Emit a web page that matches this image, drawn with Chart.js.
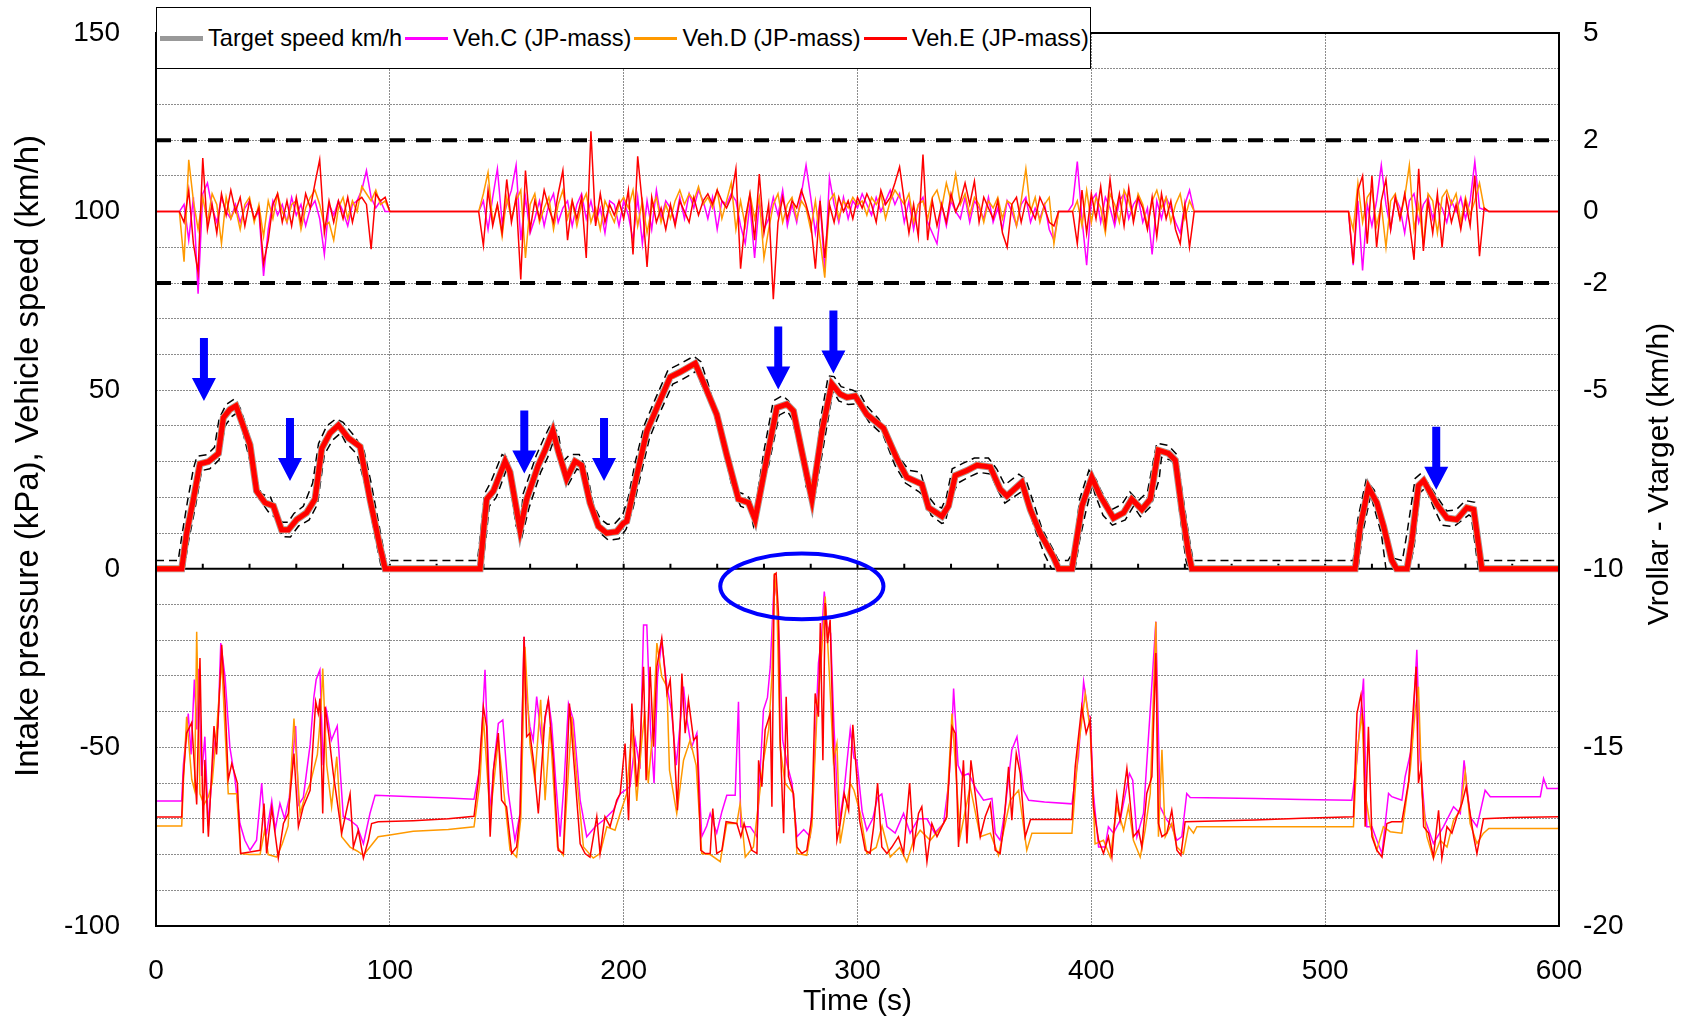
<!DOCTYPE html>
<html lang="en">
<head>
<meta charset="UTF-8">
<title>Speed, deviation and intake pressure</title>
<script src="https://cdn.jsdelivr.net/npm/chart.js"></script>
<style>
  body { margin: 0; background: #fff; }
  #wrap { position: relative; width: 1685px; height: 1020px; }
  #legend {
    position: absolute; left: 156px; top: 7px; width: 933px; height: 60px;
    border: 1.5px solid #000; background: #fff; display: flex; align-items: center;
    font: 23.6px 'Liberation Sans', Arial, sans-serif; color: #000; white-space: nowrap;
  }
  #legend .sw { display: inline-block; width: 43px; height: 3px; margin: 0 5px 0 3px; }
</style>
</head>
<body>
<div id="wrap">
  <canvas id="myChart" width="1685" height="1020"></canvas>
  <div id="legend">
    <span class="sw" style="background:#999;height:5px"></span><span>Target speed km/h</span>
    <span class="sw" style="background:#ff00ff"></span><span>Veh.C (JP-mass)</span>
    <span class="sw" style="background:#ff9900"></span><span>Veh.D (JP-mass)</span>
    <span class="sw" style="background:#ff0000"></span><span>Veh.E (JP-mass)</span>
  </div>
</div>

<script>
// ---- speed profile [time s, km/h] (vehicles follow the target within the line width)
const speedTrace = [[0,0],[11,0],[13.1,10],[16,19.5],[18.8,29.4],[22.4,30],[26.7,32.3],[28.8,42.3],[31.6,44.6],[34.2,45.6],[36.6,41.3],[40.2,34.7],[43,21.8],[46.6,18.5],[50.2,17.6],[53.7,10.9],[56.6,10.9],[60.2,13.8],[64.4,15.7],[68,19.5],[70.9,33.7],[74.4,38],[78,40.2],[82.3,36.6],[87.3,34.2],[91.5,19.5],[95.8,6.2],[98,0],[138.6,0],[140,10],[141.4,19.5],[144.3,21.8],[149.3,30.1],[151.4,27],[155.7,10.9],[158.5,19.5],[163.5,29],[166.4,33.2],[169.7,38.7],[172.1,32.8],[175.6,25.2],[179.2,30.1],[182,29],[185.6,18.5],[189.2,11.9],[192.7,10],[197,10.4],[199.9,12.8],[201.3,13.3],[205.6,26.1],[209.9,38.5],[214.2,45.1],[219.9,53.7],[224.2,55.1],[230.6,57.5],[234.1,52.2],[239.8,43.2],[244.1,31.8],[249.1,19.5],[253.4,18.5],[256.2,13.8],[261.2,30.9],[265.5,45.1],[269.8,46.1],[272.6,44.2],[276.2,32.8],[280.5,19.5],[284.8,38.5],[289,51.8],[292.6,48.9],[295.5,48],[299,48.4],[304,43.2],[311.1,39.4],[316.8,30.9],[321.1,25.6],[327.5,23.7],[330.4,17.1],[336.1,14.7],[338.9,17.6],[341.8,26.1],[346.8,27.5],[351.1,29],[356.8,28.5],[361,22.3],[363.9,20.4],[370.3,24.2],[373.9,16.6],[378.1,10],[383.8,3.3],[386,0],[391.7,0],[396,17.6],[400.2,25.6],[403.8,20.4],[409.5,14.2],[413.8,15.7],[417.3,19.5],[421.6,16.6],[425.2,19.5],[428.7,33.2],[433,32.3],[435.9,30.4],[438.7,16.6],[441.6,4.3],[443,0],[512.8,0],[515,11.9],[518.5,22.8],[522.1,18.5],[525,11.9],[528.5,2.4],[530.5,0],[535,0],[537.1,8.1],[539.9,23.3],[542.1,24.7],[547.8,18],[552.1,14.2],[556.3,13.8],[560.6,17.1],[563.5,16.6],[567,0],[600,0]];

// tolerance band around the target
const bandUpper = [[0,2.3],[9.5,2.3],[11,9],[13.5,19],[16,28],[17.5,31.5],[22,32],[25,34],[27,42],[30,46],[33.5,47.5],[36,45],[39.5,38],[42.5,26],[45,21],[49,20],[52,15],[54,13],[56.5,13],[59,15.5],[63,17.5],[67,24],[69.5,35],[73,40],[77,42],[80,41],[85,37],[89,33],[92,24],[96,10],[98,3],[99,2.3],[137.5,2.3],[139,11],[140.5,21],[143,24],[148,32],[150.5,31],[152,25],[154.5,14],[156,13],[157,21],[162.5,31.5],[165.5,36],[169,40.7],[172,38],[174,30],[177,32],[181,32],[184,28],[187,18],[190,14],[193,12.5],[196,12.5],[199.5,15],[202,20],[205,30],[209,40.5],[213.5,47.5],[219,55.7],[223,57],[230,59.5],[233,58],[236,52],[239,45],[243,36],[247,22],[251,21],[253.5,20],[256,16],[257,20],[260,33],[264,47],[268,48.5],[270.5,47],[273,43],[275.5,35],[278,23],[280,21],[282,27],[284,41],[287.5,54],[290,53.8],[293,51],[298,50],[301,49],[304,45.5],[309,42],[314,36],[318,31],[322,27.6],[327,27],[329.5,21],[333,18],[336,17],[338,20],[340.5,28],[345,29.5],[350,31],[356,31],[359.5,28],[363,23.5],[369,26.5],[372,25],[375,19],[379,11],[384,5],[386,2.3],[390,2.3],[392.5,5],[395,19.5],[399,27.6],[402,25],[404,22],[408.5,16.5],[413,18],[416.5,21.5],[420,19],[424,21.5],[428,35.2],[433,34.5],[436.5,32],[439,21],[441.5,10],[443.5,2.3],[512,2.3],[514,14],[517.5,24.8],[521,22],[524.5,15],[527,6],[529,3],[533,2.3],[535,10],[538.5,25.3],[541,26.7],[545,23],[548,20],[552,16.2],[556,16.5],[560,19.1],[564,18.6],[566,8],[567.5,2.3],[600,2.3]];
const bandLower = [[0,0],[12,0],[14,8],[17,18],[19.5,27.5],[23,28],[27,30.5],[29.5,40],[32.5,42.7],[34.5,43.6],[35.5,43],[38,36],[41,28],[44,19.8],[48,16],[51.5,14],[54,9],[57.5,8.9],[61,12],[65.5,13.7],[69,18],[72,32],[75.5,36],[79,38],[81,35.5],[86,32],[90,22],[94,8],[96.5,0],[139.5,0],[141,8],[142.5,17.5],[145.5,20],[150,28],[151,26],[154,12],[156.5,9],[159.5,17],[164.5,27],[167.5,31.2],[170.5,36.7],[171,35],[173,29],[176,23.2],[180,28],[183,26.5],[186,16.5],[190,10],[193.5,8],[198,8.4],[201,11],[204,17],[206.5,24],[211,36.5],[215,43],[221,51.7],[225,53],[231.5,55.5],[233,52],[238,45],[242,36],[246,24],[250,17.5],[254,16.5],[255.5,12],[258,20],[262,29],[266.5,43],[270,44.2],[272,42],[275,34],[279,22],[281,17.5],[283,25],[286,36.5],[289.5,49.8],[292,47],[296,46],[300,46.2],[305,41],[311,37.4],[316,29],[320.5,24],[326,21.7],[329,20],[331.5,15],[336,12.7],[337.5,13],[340,20],[343,24],[347,25.5],[352,27],[357,26.5],[360,22],[363,18.4],[371,22],[373,17],[376.5,10],[380,4],[383,0],[393,0],[395,8],[397.5,15.6],[400.5,23.6],[401.5,21],[403,18.4],[405,15],[409,12.2],[414.5,13.7],[418,17.5],[421,14.6],[425.5,17.5],[429,25],[430,31.2],[434.5,30.3],[436,27],[438,14.6],[440.5,2.3],[441.5,0],[514,0],[516,9.9],[519.5,20.8],[521,17],[524,9.9],[526,0],[536,0],[538,6],[540.5,21.3],[543,22.7],[546.5,17],[550,12.2],[555,11.8],[561.5,15.1],[562.5,14.6],[565.5,0],[600,0]];

// ---- Vroller - Vtarget (km/h), sampled every 2 s from 10 s, 138 s and 510 s
const devE_A = [0,-0.3,0.6,-0.9,-1.7,1.5,-0.5,0.2,-0.6,0.5,-0.1,0.6,0.0,0.4,-0.4,0.3,-0.2,0.1,-1.45,-0.8,0.2,0.5,-0.3,0.3,-0.4,0.4,-0.3,0.5,0.1,0.8,1.45,-0.6,0.3,-0.3,0.3,-0.2,0.4,-0.3,0.3,0.4,0.2,-1.05,0.5,0.3,0.4,0];
const devC_A = [0,0.2,-0.8,0.4,-2.3,0.5,0.8,0.1,-0.3,0.4,0.0,-0.2,0.2,-0.3,0.1,0.3,-0.2,0.0,-1.8,-0.5,0.3,-0.1,0.2,-0.3,0.4,-0.1,0.2,-0.4,0.1,0.3,-0.2,-1.2,0.2,-0.1,0.3,0.0,-0.4,0.2,0.3,0.6,1.15,0.4,0.1,0.3,0.0,0];
const devD_A = [0,-1.4,1.45,0.3,-0.5,0.4,-0.3,0.5,0.2,-0.9,0.4,-0.2,0.1,-0.5,0.2,0.4,-0.3,0.2,-0.7,0.3,-0.2,0.5,0.0,-0.3,0.2,0.3,-0.5,0.1,0.4,0.6,0.2,-0.4,-0.3,-0.8,0.1,0.4,-0.2,0.3,0.0,0.7,0.5,0.3,0.6,0.2,0.3,0];

const devE_B = [0,-0.95,0.6,-0.4,0.2,-0.6,0.9,-0.3,0.4,-1.9,
  1.15,-0.5,0.3,-0.2,0.6,0.1,-0.3,0.5,1.15,-0.8,
  0.3,-0.2,0.4,-1.3,2.25,-0.4,0.5,-0.3,0.2,-0.1,
  0.3,-0.2,0.6,-1.2,1.55,0.2,-1.55,0.4,-0.3,0.1,
  -0.5,0.2,-0.4,0.3,0.0,-0.3,0.4,-0.1,0.3,0.5,
  0.2,0.6,0.3,0.1,0.4,1.2,-1.6,-0.2,0.5,-0.8,
  1.05,-0.6,0.2,-2.45,-0.3,0.4,-0.2,0.3,0.1,0.6,
  0.2,-0.3,-1.6,0.3,-1.3,0.2,-0.3,0.4,0.0,0.3,
  -0.2,0.4,0.1,0.5,0.2,-0.3,0.6,0.2,0.4,0.8,
  1.25,0.3,-0.6,0.2,-0.7,1.6,-0.8,0.3,-0.4,0.2,
  -0.3,0.5,0.0,0.3,0.8,0.2,0.85,-0.3,0.4,0.1,
  -0.2,0.3,-0.6,-1.0,0.2,0.4,-0.3,0.3,0.1,-0.2,
  0.4,0.1,-0.3,-0.4,0,0,0,0,-0.9,0.6,
  -0.6,0.5,-0.2,0.7,-0.4,0.9,-0.2,0.5,-0.4,0.65,
  -0.3,0.4,0.1,-0.5,0.4,-0.7,0.5,-0.2,0.3,-0.5,
  -0.9,0.2,-1.0,0];
const devC_B = [0,0.3,-0.5,0.4,1.2,-0.3,0.2,0.6,1.3,-0.8,
  0.4,-0.6,-0.2,0.3,-0.4,0.2,0.5,-0.3,0.1,0.3,
  -0.4,0.2,0.5,-0.2,0.3,-0.3,0.1,-0.6,0.3,0.2,
  -0.4,0.3,-0.1,-0.8,0.4,-0.9,0.3,-0.5,0.6,-0.2,
  0.3,0.1,-0.3,0.4,-0.2,0.5,0.1,0.6,0.3,-0.2,
  0.4,-0.5,0.3,0.2,0.5,0.3,-0.4,-0.9,0.2,-1.3,
  0.3,-0.5,-0.2,0.4,-0.1,0.6,-0.4,0.2,-0.3,0.5,
  1.3,0.4,-0.6,0.3,-1.7,0.95,0.2,-0.3,0.4,-0.2,
  0.3,0.1,0.5,0.2,-0.1,0.4,0.0,0.3,0.6,0.2,
  0.5,-0.3,0.3,-0.5,0.2,0.4,-0.3,-0.6,-0.9,0.2,
  -0.4,0.3,0.0,-0.2,0.4,-0.3,0.3,0.1,-0.2,0.4,
  -0.3,0.1,-0.5,0.3,0.0,-0.4,0.2,0.4,-0.3,0.1,
  -0.2,0.2,-0.5,-0.8,0,0,0,0.2,1.4,-0.2,
  -1.5,0.3,0.5,-0.3,0.4,0.1,-0.4,0.3,0.5,-0.2,
  0.2,0.4,-0.3,0.1,-1.2,0.3,-0.2,0.4,0.1,-0.3,
  -0.6,0.2,0.6,0];
const devD_B = [0,0.5,1.1,-0.3,0.2,-0.7,0.4,-0.2,0.3,0.6,
  -1.3,0.2,0.5,-0.3,0.1,0.4,-0.5,0.2,0.6,-0.2,
  0.3,-0.4,0.2,0.5,-0.3,0.1,-0.5,0.3,0.0,-0.3,
  0.2,0.4,0.1,0.6,-0.4,0.3,-0.6,0.1,0.4,-0.3,
  0.2,-0.2,0.3,0.6,0.2,0.5,0.3,0.7,0.2,0.4,
  0.1,0.6,-0.2,0.3,0.8,-0.5,0.3,-0.4,0.5,-0.2,
  0.4,-1.3,-0.5,0.2,0.5,-0.3,0.2,0.4,-0.2,0.3,
  0.1,-0.5,0.3,-0.8,-1.85,0.3,0.5,-0.2,0.3,0.1,
  0.4,0.2,0.3,-0.1,0.4,0.2,0.5,-0.2,0.3,0.6,
  0.4,0.2,0.5,-0.3,0.2,0.3,-0.2,0.4,0.6,0.1,
  0.8,0.3,1.05,0.2,0.5,-0.1,0.4,0.2,-0.3,0.3,
  0.1,0.4,-0.2,0.3,0.2,-0.4,0.3,1.2,0.0,0.4,
  -0.3,0.2,0.4,-0.9,0,0,0,0,0.3,-0.4,
  0.6,-0.3,0.4,0.1,-0.6,0.5,0.2,-0.3,0.6,0.3,
  -0.2,0.5,0.2,-0.4,0.3,0.6,0.1,0.4,-0.3,0.2,
  0.5,-0.2,0.3,0];

const devE_C = [0,-1.45,0.6,1.0,-0.9,1.0,-1.0,0.3,0.9,-0.5,0.4,-0.2,0.5,-0.3,-1.35,1.2,-1.1,0.3,-0.6,0.5,-1.0,0.4,-0.3,0.2,-0.5,0.3,-0.4,1.0,-1.25,0.1,0];
const devC_C = [0,-1.5,0.3,-1.65,0.2,-0.4,0.3,1.3,0.2,-0.5,0.4,0.1,-0.6,0.3,0.5,-0.3,0.2,0.4,-0.2,0.3,0.1,-0.3,0.3,0.0,0.4,-0.2,0.3,1.4,0.1,0.05,0];
const devD_C = [0,-0.5,0.8,-0.3,0.4,0.6,-0.4,0.2,-1.0,0.3,0.5,-0.2,0.4,1.3,-0.5,0.2,-0.9,0.5,0.3,-0.6,0.4,0.6,0.2,0.5,-0.3,0.4,-0.1,0.3,0.8,0.1,0];

const devLimits = [2, -2];

// ---- intake pressure [time s, kPa]
const pressE = [[0,-69.5],[11,-69.5],[11.7,-58],[13.1,-46],[15.3,-43],[17.4,-66],[18.8,-25],[20.2,-74],[20.9,-53.5],[22.4,-75],[24.8,-44],[25.9,-52],[28.1,-21.3],[29.5,-36.7],[30.9,-59],[32.4,-54.5],[34.8,-60],[36.2,-79.7],[40.2,-79.3],[44.5,-78.8],[46.2,-65.7],[47.3,-79.7],[49.5,-67],[52.3,-81],[54.5,-71.3],[56.6,-68.5],[59,-51.7],[60.9,-72.2],[63,-66.6],[65.9,-62],[68.3,-37.2],[69.4,-40.5],[70.1,-36.3],[71.3,-68.5],[72.3,-38.6],[74,-47],[75.8,-57.3],[79.4,-74],[83,-63],[84.4,-77.9],[86.5,-73.2],[88.7,-81],[90.8,-76],[92.2,-71.3],[95,-70.8],[110,-70.5],[125,-70],[136,-69.3],
  [137.9,-59],[140,-38.6],[141.4,-44.2],[142.9,-75],[144.3,-56.4],[146.4,-46],[147.8,-64.8],[149.9,-66.6],[152.1,-79.7],[154.2,-77.9],[155.7,-68.5],[157.4,-19],[158.5,-47],[159.9,-46],[161.4,-53.6],[163.5,-68.5],[166.4,-41.4],[167.8,-36.7],[169.9,-53.6],[172,-78.8],[174.2,-79.7],[176.8,-37.7],[179.2,-58.2],[181.4,-77],[183.5,-79.7],[185.6,-80.7],[188.5,-69.4],[189.9,-79.7],[192,-69.4],[194.2,-72.2],[197,-64.8],[198.5,-63],[200.6,-48.9],[202.1,-70.4],[203.5,-37.7],[205.6,-61],[207,-49.8],[208.5,-27.4],[209.6,-59.2],[211.3,-27.4],[212.8,-49.8],[214.2,-27.4],[216.3,-19.4],[218.5,-34.9],[219.9,-31.1],[221.3,-46],[223,-67.6],[224.9,-29.3],[226.3,-46],[227.7,-36.7],[229.9,-47.9],[231.3,-47],[233,-78.8],[234.9,-79.7],[237,-79.7],[238.1,-67.1],[239.8,-79.7],[242,-78.8],[243.8,-70.8],[248.4,-71.3],[250.1,-75],[251.5,-71.3],[252.7,-74],[254.8,-78.8],[257,-79.7],[257.7,-53.6],[259.1,-61],[260.5,-45.1],[262.7,-40.5],[263.4,-66.6],[264.4,-1.7],[265.2,-1.2],[266.2,-12.4],[266.9,-47],[268.4,-74],[269.5,-35.8],[270.5,-58.2],[272.6,-62.9],[274.1,-77.9],[276.2,-79.7],[278.3,-78.8],[280.5,-69.4],[281.9,-34.9],[283.3,-41.4],[284.1,-15.2],[285.2,-53.6],[286.2,-9.6],[287.2,-20.8],[288.3,-14.3],[289.7,-49.8],[291.2,-76],[292.6,-71.3],[294.3,-62.9],[296.2,-67.6],[298,-43.7],[299.7,-58.2],[300.9,-70.4],[303.3,-78.8],[305.4,-79.7],[306.9,-72.2],[308.6,-60],[310.4,-77.9],[312.6,-79.7],[314.7,-77.9],[317.5,-75],[319.7,-79.7],[322.3,-60],[324,-77.9],[326.1,-68.5],[327.5,-66.6],[329.7,-82],[331.8,-71.3],[334,-75],[336.1,-72.2],[338.2,-69.4],[340.4,-44.2],[341.8,-46],[343.2,-77.9],[345.3,-53.6],[346.8,-76.9],[348.5,-53.6],[350.3,-62.9],[352.5,-75],[354.6,-69.4],[356.8,-65.7],[358.9,-78.8],[361,-79.7],[362.5,-72.2],[364.6,-55.4],[366,-70.4],[367.9,-51.7],[369.6,-57.3],[371.7,-75],[374,-70.2],[391.7,-70.2],[393.1,-55.4],[395.9,-38.6],[397.8,-46],[399.5,-42.3],[400.9,-66.6],[403.1,-76],[405.2,-79.7],[407.3,-75],[408.8,-80.7],[410.9,-63.4],[412.3,-70.4],[415.2,-55.9],[418,-75],[420.2,-73.2],[421.6,-77.9],[423.7,-62.9],[425.9,-58.2],[427.6,-23.6],[428.7,-71.3],[430.2,-75],[432.3,-74],[434.4,-67.6],[436.6,-78.8],[438.3,-80.2],[440.1,-70.8],[470,-70.3],[490,-69.8],[512.1,-69.4],
  [513.6,-40.5],[515.3,-35.3],[516.4,-44.2],[517.1,-72.2],[518.5,-44.2],[520,-75],[522.1,-78.8],[524.3,-80.7],[526.4,-71.3],[528.5,-70.8],[532.8,-70.8],[535.7,-59.6],[537.8,-38.1],[538.9,-27.4],[539.9,-60],[541.1,-55.4],[542.1,-72.2],[544.2,-74],[546.3,-80.7],[548.5,-67.6],[549.9,-81.1],[552.1,-72.2],[554.2,-74],[556.3,-69.4],[558.5,-65.7],[560.3,-61],[562,-68.5],[563.5,-75],[564.9,-79.7],[567.7,-70],[580,-69.6],[600,-69.4]];

const pressC = [[0,-65],[11,-65],[11.7,-55],[13.8,-40.5],[15,-52],[16.4,-31],[17.4,-45],[18.1,-28],[19.5,-58],[20.9,-47],[22.4,-72],[24.8,-50],[26.5,-44],[27.7,-20.8],[29.5,-30],[31.6,-50],[33.8,-59],[35.9,-71.3],[38,-76],[40.2,-78.8],[43,-76],[45.2,-60],[46.5,-72],[47.3,-74],[49.5,-65],[51,-73],[53,-65.7],[55,-70],[57,-64],[59.7,-44],[61,-66],[63,-64],[65.9,-49.3],[67.5,-36],[68.5,-31],[70.1,-28.3],[71.5,-55],[73,-40],[75,-48],[77.5,-44],[80.1,-69.4],[83,-70.4],[86,-72],[88.7,-77],[91.5,-68.5],[93.7,-63.4],[110,-63.8],[125,-64.2],[136,-64.5],
  [138.6,-55.4],[140.7,-28.3],[142.9,-68.5],[144.5,-55],[146.4,-43.3],[148.3,-42.3],[150.7,-62.9],[153.5,-76],[155.7,-68.5],[157.4,-19],[158.5,-35.8],[159.9,-44.2],[161.3,-48],[162.8,-35.8],[164.9,-48],[167.8,-36.7],[169.2,-43.3],[171,-60],[172.8,-75],[174.5,-60],[176.4,-37.7],[178.5,-42.3],[181.4,-64.8],[184.2,-75],[187.8,-72.2],[191.3,-70.4],[195.6,-67.6],[198.5,-63],[200.6,-62],[202.7,-61],[205,-48],[207,-56],[208.5,-15.7],[209.9,-15.7],[211.5,-45],[213,-60],[214.5,-30],[216.3,-20.3],[218.5,-33],[220.5,-40],[222.5,-55],[225.6,-33],[227,-42],[229,-50],[231.3,-46],[233.4,-75],[235.5,-72],[237,-68.5],[239.8,-74],[242,-68],[244.1,-63.4],[247.7,-63.4],[249.1,-37.2],[250.1,-72.2],[254.1,-72.2],[257,-75],[258.5,-55],[259.8,-39.5],[261.5,-36],[262.7,-27.4],[264.4,-3],[265.5,-8],[266.5,-20],[268,-48],[270,-55],[272,-60],[274.1,-75],[277,-73],[279.8,-75],[281.5,-55],[283.3,-26.4],[284.5,-20],[285.8,-6.4],[287,-16],[288.5,-18],[290,-45],[292,-72],[294.3,-62],[296.9,-45],[298.5,-53],[299.7,-53.6],[302,-68],[304,-73.2],[306.5,-70],[308.6,-64],[310.4,-63],[312.6,-72.2],[316.1,-74],[319.7,-68.5],[322.5,-74],[326,-70],[329.7,-70],[333,-74],[336.8,-71.3],[339,-60],[340.4,-45],[341.1,-33.5],[343,-55],[345,-58],[347.5,-57.3],[351,-62],[353.9,-64.8],[357.5,-64.3],[358.9,-74],[361,-76],[363,-68],[366,-50.7],[368.2,-47],[371,-62],[373.2,-64.8],[380,-65.3],[391.7,-65.8],[394.5,-52.6],[396.7,-31.6],[398.8,-41],[399.5,-41.4],[400.9,-62.9],[403.1,-77.9],[405.9,-77.9],[407.3,-72.2],[409.5,-74],[412.3,-70.4],[416.3,-57.3],[417.7,-59.2],[419.5,-75],[422.3,-68.5],[425.2,-39.5],[427.6,-14.8],[429.4,-66.6],[432,-70],[434.4,-72.2],[436.6,-76],[438.7,-75],[440.8,-62.9],[442.3,-64],[470,-64.3],[490,-64.6],[511.4,-64.8],
  [513.6,-53.6],[516.4,-30.7],[517.8,-72.2],[520,-72.2],[522.1,-76],[524.3,-79.7],[527.1,-62.9],[528.5,-63.8],[532.8,-64.8],[534.2,-58.2],[537.1,-49.8],[539.2,-22.7],[540.6,-53.6],[542.8,-70.4],[546.3,-76.9],[550.6,-72.2],[554.9,-66.6],[557.8,-68.5],[559.4,-53.6],[562,-69.4],[564.9,-72.2],[568.4,-62],[570.6,-63.8],[592,-63.8],[593.4,-58.7],[594.9,-61.5],[599.8,-61.5],[600,-56]];

const pressD = [[0,-72],[11,-72],[11.7,-60],[13.1,-41.4],[15.3,-59],[16.5,-62],[17.4,-17.6],[18.8,-63],[20.5,-66],[22.4,-63.8],[24,-60],[25.9,-45.6],[28.1,-25.5],[29.5,-45],[30.9,-63],[34.5,-63],[36.2,-79.7],[40,-80],[44.5,-80],[46.5,-73],[48,-80],[51.6,-80.7],[54,-77],[56.5,-72],[59,-41.9],[61.6,-68.5],[63.7,-63.8],[66,-60],[69,-52],[70.5,-40],[71.3,-27.9],[73,-55],[75.1,-66.6],[77.3,-52.6],[79.4,-75],[83,-77.9],[86,-79],[88.7,-80.2],[91.5,-77.9],[95,-75],[100,-74.5],[110,-73.5],[125,-73],[136,-72.2],
  [138.5,-60],[140,-41.4],[142.9,-69.4],[146.4,-48],[147.8,-56.4],[151.4,-78.8],[154.2,-80.7],[156,-70],[157.8,-21.8],[159.9,-48.9],[162,-59],[164.5,-36.7],[166.4,-64.8],[168.5,-44.2],[171.7,-77.9],[174.2,-80.2],[177.8,-41.4],[180,-59],[182.8,-77.9],[187,-81],[189.9,-79.7],[192.8,-72.2],[196.3,-73.2],[198.5,-68.5],[201.3,-63],[203.5,-45],[205.6,-65],[207.5,-50],[209,-40],[210.5,-60],[212.5,-45],[214.2,-20.8],[216.3,-30.2],[218.5,-33],[219.6,-56.4],[222.7,-68.5],[225.6,-53.6],[228.4,-48],[231,-55],[233.4,-79.7],[237,-80],[241.3,-82],[244.1,-71.3],[248.4,-71.3],[249.8,-65.7],[252,-80.7],[255.5,-77.9],[259.8,-53.6],[262,-45],[263.4,-30.2],[264.5,-1.2],[265.5,-8],[266.9,-49.8],[269,-60],[272.6,-62.9],[274.1,-79.7],[278.3,-80.2],[280.5,-72],[282.6,-41.4],[284.5,-25],[286.2,-7.8],[288,-30],[289.7,-53.6],[291.2,-48.9],[292.6,-76.9],[296.9,-60],[298.5,-62],[301.2,-68.5],[304,-79.7],[308,-78],[310.5,-72],[314,-80.7],[318,-78],[321.1,-82],[324,-76],[326.8,-73.2],[331.1,-76],[335,-73],[338,-70],[340.4,-40.5],[343.9,-75],[346,-68],[348.2,-61],[352.5,-75],[356.8,-74],[360.3,-80.2],[365.3,-64.8],[368.9,-62],[372.4,-78.8],[374.6,-74],[391.7,-74],[394.5,-49.8],[397.4,-34.9],[399.5,-45],[401.6,-77],[405.2,-76],[408.1,-80.7],[410.9,-66.6],[413.8,-73.2],[415.9,-66.6],[418,-76],[420.9,-80.7],[423,-73.2],[425.2,-62.9],[427.6,-14.8],[428.7,-75],[430.2,-50.7],[431.6,-75],[434.4,-71.3],[436.6,-77.9],[439.4,-79.7],[441.6,-72.2],[443.7,-74],[445.1,-72.2],[512.1,-72.2],
  [513.6,-51.7],[515.7,-40.5],[517.1,-62.9],[519.3,-72.2],[522.1,-78.8],[524.9,-72.2],[527.8,-73.6],[532.8,-74],[536.4,-56.4],[538.5,-39.5],[539.9,-33],[541.4,-62.9],[543.5,-75],[546.3,-81.1],[549.2,-76],[552.1,-77.9],[554.9,-70.4],[557.8,-67.6],[559.9,-56.8],[562,-71.3],[564.9,-76.9],[567.7,-74],[570,-72.7],[599.8,-72.7],[600,-70]];

// ---- annotations (data units)
const arrowTime = [20.5, 57.3, 157.5, 191.6, 266.1, 289.7, 547.5];
const arrowTip  = [47.0, 24.6, 26.7, 24.6, 50.2, 54.7, 22.1];
const ringTime = 276.2, ringValue = -4.9, ringHalfTime = 34.9, ringHalfValue = 9.2;

const rightTicks = [5, 2, 0, -2, -5, -10, -15, -20];
const leftTitle = 'Intake pressure (kPa), Vehicle speed (km/h)';
const rightTitle = 'Vrollar - Vtarget (km/h)';

const FONT = "'Liberation Sans', Arial, sans-serif";

function pts(pairs) { return pairs.map(p => ({ x: p[0], y: p[1] })); }
function seg(start, vals) { return vals.map((v, i) => ({ x: start + 2 * i, y: v })); }
function devPts(a, b, c) {
  return [{ x: 0, y: 0 }, ...seg(10, a), ...seg(138, b), ...seg(510, c), { x: 600, y: 0 }];
}
function line(label, data, color, width, axis, order, dash) {
  return { label, data, borderColor: color, borderWidth: width, yAxisID: axis, order,
    borderDash: dash || [], pointRadius: 0, tension: 0, fill: false };
}

const datasets = [
  line('Veh.E speed', pts(speedTrace), '#ff0000', 5, 'y', 1),
  line('Veh.D speed', pts(speedTrace), '#ff9900', 5.5, 'y', 2),
  line('Veh.C speed', pts(speedTrace), '#ff00ff', 5.5, 'y', 3),
  line('Target speed km/h', pts(speedTrace), '#999999', 7, 'y', 4),
  line('upper', pts(bandUpper), '#000', 1.5, 'y', 5, [8, 5]),
  line('lower', pts(bandLower), '#000', 1.5, 'y', 5, [8, 5]),
  line('dev E', devPts(devE_A, devE_B, devE_C), '#ff0000', 1.5, 'y1', 6),
  line('dev D', devPts(devD_A, devD_B, devD_C), '#ff9900', 1.5, 'y1', 7),
  line('dev C', devPts(devC_A, devC_B, devC_C), '#ff00ff', 1.5, 'y1', 8),
  line('press E', pts(pressE), '#ff0000', 1.5, 'y', 6),
  line('press D', pts(pressD), '#ff9900', 1.5, 'y', 7),
  line('press C', pts(pressC), '#ff00ff', 1.5, 'y', 8),
];
devLimits.forEach(v => datasets.push(line('limit', [{ x: 0, y: v }, { x: 600, y: v }], '#000', 4, 'y1', 9, [15, 11])));

const overlay = {
  id: 'overlay',
  beforeDatasetsDraw(chart) {
    const { ctx, chartArea: a, scales: { x, y } } = chart;
    const y0 = y.getPixelForValue(0);
    ctx.save();
    ctx.strokeStyle = '#000';
    ctx.lineWidth = 2;
    ctx.beginPath();
    ctx.moveTo(a.left, y0); ctx.lineTo(a.right, y0);
    for (let t = 20; t < 600; t += 20) {
      const px = x.getPixelForValue(t);
      ctx.moveTo(px, y0); ctx.lineTo(px, y0 - 5);
    }
    ctx.stroke();
    ctx.restore();
  },
  afterDatasetsDraw(chart) {
    const { ctx, chartArea: a, scales: { x, y } } = chart;
    ctx.save();
    ctx.strokeStyle = '#000';
    ctx.lineWidth = 2;
    ctx.strokeRect(a.left, a.top, a.right - a.left, a.bottom - a.top);

    // blue arrows
    ctx.fillStyle = '#0000ff';
    arrowTime.forEach((t, i) => {
      const px = x.getPixelForValue(t), py = y.getPixelForValue(arrowTip[i]);
      ctx.beginPath();
      ctx.moveTo(px - 4, py - 63); ctx.lineTo(px + 4, py - 63);
      ctx.lineTo(px + 4, py - 23); ctx.lineTo(px + 12, py - 23);
      ctx.lineTo(px, py); ctx.lineTo(px - 12, py - 23);
      ctx.lineTo(px - 4, py - 23); ctx.closePath();
      ctx.fill();
    });

    // blue ellipse
    const cx = x.getPixelForValue(ringTime), cy = y.getPixelForValue(ringValue);
    const rx = x.getPixelForValue(ringTime + ringHalfTime) - cx;
    const ry = y.getPixelForValue(ringValue - ringHalfValue) - cy;
    ctx.strokeStyle = '#0000ff';
    ctx.lineWidth = 4;
    ctx.beginPath();
    ctx.ellipse(cx, cy, rx, ry, 0, 0, Math.PI * 2);
    ctx.stroke();

    // axis titles, both reading bottom to top
    ctx.fillStyle = '#000';
    ctx.textAlign = 'center';
    ctx.textBaseline = 'middle';
    ctx.font = '33px ' + FONT;
    ctx.translate(29, 456); ctx.rotate(-Math.PI / 2);
    ctx.fillText(leftTitle, 0, 0);
    ctx.setTransform(1, 0, 0, 1, 0, 0);
    ctx.font = '30px ' + FONT;
    ctx.translate(1660, 474); ctx.rotate(-Math.PI / 2);
    ctx.fillText(rightTitle, 0, 0);
    ctx.restore();
  }
};

const gridColor = '#8c8c8c';

new Chart(document.getElementById('myChart'), {
  type: 'line',
  data: { datasets },
  options: {
    responsive: false,
    animation: false,
    events: [],
    layout: { padding: { top: 33, left: 0, right: 0, bottom: 0 } },
    plugins: { legend: { display: false }, tooltip: { enabled: false } },
    scales: {
      x: {
        type: 'linear', min: 0, max: 600,
        ticks: { stepSize: 100, color: '#000', font: { family: FONT, size: 28 }, padding: 28, maxRotation: 0 },
        grid: { color: gridColor, drawTicks: false },
        border: { display: false, dash: [2, 1] },
        title: { display: true, text: 'Time (s)', color: '#000', font: { family: FONT, size: 30 }, padding: 0 },
        afterFit(s) { s.height = 94; s.paddingLeft = 0; s.paddingRight = 0; }
      },
      y: {
        position: 'left', min: -100, max: 150,
        ticks: { stepSize: 10, autoSkip: false, color: '#000', font: { family: FONT, size: 28 }, padding: 36,
          callback: v => (v % 50 === 0 ? v : '') },
        grid: { color: gridColor, drawTicks: false },
        border: { display: false, dash: [2, 1] },
        afterFit(s) { s.width = 156; s.paddingTop = 0; s.paddingBottom = 0; }
      },
      y1: {
        position: 'right', min: -20, max: 5,
        afterBuildTicks(s) { s.ticks = rightTicks.map(v => ({ value: v })); },
        ticks: { color: '#000', font: { family: FONT, size: 28 }, padding: 24, autoSkip: false },
        grid: { drawOnChartArea: false, drawTicks: false },
        border: { display: false },
        afterFit(s) { s.width = 126; s.paddingTop = 0; s.paddingBottom = 0; }
      }
    }
  },
  plugins: [overlay]
});
</script>
</body>
</html>
